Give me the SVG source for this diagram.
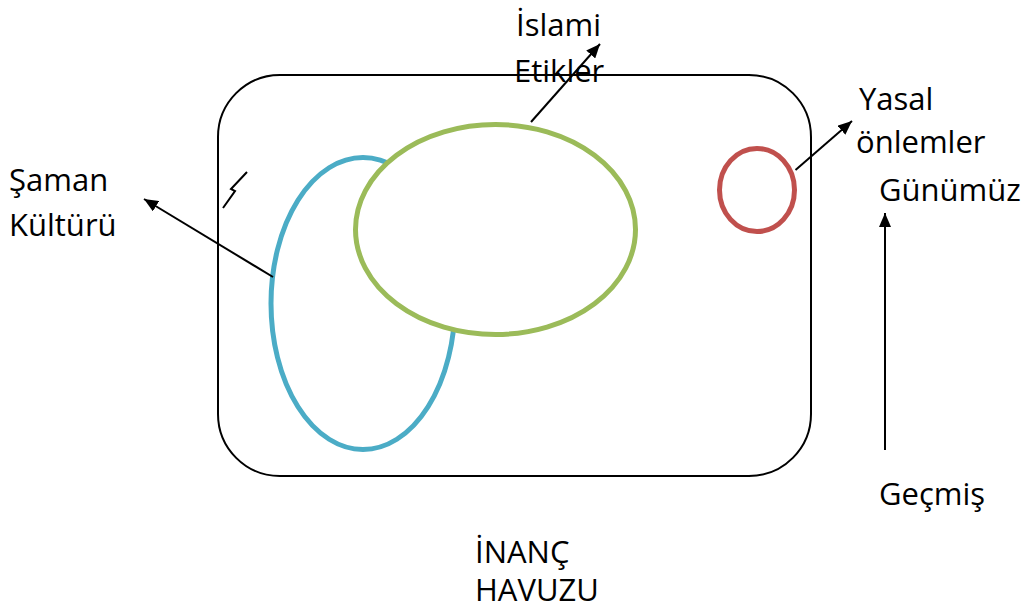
<svg xmlns="http://www.w3.org/2000/svg" width="1031" height="610" viewBox="0 0 1031 610">
<defs>
<style>
.t{font-family:"Open Sans","Liberation Sans",sans-serif;font-size:31px;fill:#000}
.ln{stroke:#000;stroke-width:2;fill:none}
</style>
<marker id="a" viewBox="0 0 14 12" refX="14" refY="6" markerWidth="14" markerHeight="12" markerUnits="userSpaceOnUse" orient="auto">
<path d="M0,0 L14,6 L0,12 z" fill="#000"/>
</marker>
</defs>
<rect width="1031" height="610" fill="#fff"/>
<g id="labels">
<text class="t" x="516" y="36">İslami</text>
<text class="t" x="514" y="82">Etikler</text>
<text class="t" x="859" y="110">Yasal</text>
<text class="t" x="856" y="153">önlemler</text>
<text class="t" x="879" y="201">Günümüz</text>
<text class="t" x="9" y="191">Şaman</text>
<text class="t" x="9" y="236">Kültürü</text>
<text class="t" x="879" y="505">Geçmiş</text>
<text class="t" x="475" y="563">İNANÇ</text>
<text class="t" x="475" y="601">HAVUZU</text>
</g>
<g id="pool">
<rect x="218" y="75" width="593" height="401" rx="62" ry="62" fill="none" stroke="#000" stroke-width="2"/>
</g>
<g id="saman">
<ellipse cx="363" cy="303.5" rx="92" ry="146" fill="none" stroke="#4BACC6" stroke-width="5"/>
</g>
<g id="islami">
<ellipse cx="495.5" cy="229.5" rx="140" ry="105" fill="#fff" stroke="#9BBB59" stroke-width="5"/>
</g>
<g id="yasal">
<ellipse cx="757" cy="190" rx="37.5" ry="41.5" fill="none" stroke="#C0504D" stroke-width="5"/>
</g>
<g id="mark">
<path d="M247,172 L231,189 L235,191 L223,208" fill="none" stroke="#000" stroke-width="2"/>
</g>
<g id="connectors">
<line class="ln" x1="531" y1="122" x2="600" y2="44" marker-end="url(#a)"/>
<line class="ln" x1="795.5" y1="170" x2="852" y2="121" marker-end="url(#a)"/>
<line class="ln" x1="273" y1="277" x2="144" y2="199" marker-end="url(#a)"/>
<line class="ln" x1="885" y1="450" x2="885" y2="213" marker-end="url(#a)"/>
</g>
</svg>
